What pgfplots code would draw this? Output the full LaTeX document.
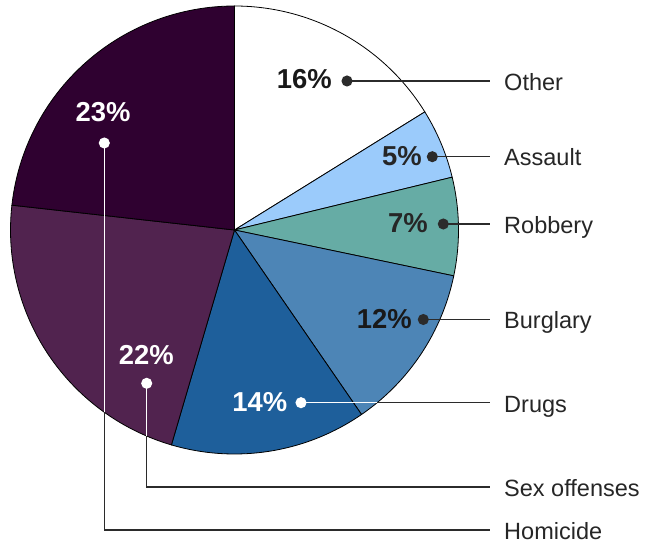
\documentclass[border=0pt]{standalone}
\usepackage{pgfplots}
\usepackage{pgfplotstable}
\pgfplotsset{compat=1.18}
\usepackage{fontspec}
\setmainfont{Liberation Sans}
\definecolor{cOther}{HTML}{FFFFFF}
\definecolor{cAssault}{HTML}{9BCBFB}
\definecolor{cRobbery}{HTML}{66ACA5}
\definecolor{cBurglary}{HTML}{4D85B6}
\definecolor{cDrugs}{HTML}{1E5F9B}
\definecolor{cSex}{HTML}{51234F}
\definecolor{cHomicide}{HTML}{2F0130}
\definecolor{lead}{HTML}{2B2B2B}

\pgfplotstableread{
category value
Other 16
Assault 5
Robbery 7
Burglary 12
Drugs 14
Sexoffenses 22
Homicide 23
}\crimedata

% cumulative angles (clockwise from 12 o'clock), total of the listed values
\def\cum{0}%
\foreach \i in {0,...,6}{%
  \pgfplotstablegetelem{\i}{value}\of\crimedata
  \pgfmathsetmacro\s{90-\cum/99*360}%
  \pgfmathsetmacro\newcum{\cum+\pgfplotsretval}%
  \pgfmathsetmacro\e{90-\newcum/99*360}%
  \expandafter\xdef\csname aS\i\endcsname{\s}%
  \expandafter\xdef\csname aE\i\endcsname{\e}%
  \xdef\cum{\newcum}%
}%
\edef\aSa{\csname aS0\endcsname}\edef\aEa{\csname aE0\endcsname}%
\edef\aSb{\csname aS1\endcsname}\edef\aEb{\csname aE1\endcsname}%
\edef\aSc{\csname aS2\endcsname}\edef\aEc{\csname aE2\endcsname}%
\edef\aSd{\csname aS3\endcsname}\edef\aEd{\csname aE3\endcsname}%
\edef\aSe{\csname aS4\endcsname}\edef\aEe{\csname aE4\endcsname}%
\edef\aSf{\csname aS5\endcsname}\edef\aEf{\csname aE5\endcsname}%
\edef\aSg{\csname aS6\endcsname}\edef\aEg{\csname aE6\endcsname}%

\begin{document}
\begin{tikzpicture}
\begin{axis}[width=645bp,height=544bp,scale only axis,
  xmin=0,xmax=645,ymin=0,ymax=544,hide axis,clip=false,
  wedge/.style={draw=black,line width=0.8bp,samples=80,variable=\t}]
\path (axis cs:0,0) rectangle (axis cs:645,544);
\def\cx{234.5}\def\cy{314}\def\R{224}
\addplot[wedge,fill=cOther,domain=\aEa:\aSa] ({\cx+\R*cos(\t)},{\cy+\R*sin(\t)}) -- (axis cs:234.5,314) -- cycle;
\addplot[wedge,fill=cAssault,domain=\aEb:\aSb] ({\cx+\R*cos(\t)},{\cy+\R*sin(\t)}) -- (axis cs:234.5,314) -- cycle;
\addplot[wedge,fill=cRobbery,domain=\aEc:\aSc] ({\cx+\R*cos(\t)},{\cy+\R*sin(\t)}) -- (axis cs:234.5,314) -- cycle;
\addplot[wedge,fill=cBurglary,domain=\aEd:\aSd] ({\cx+\R*cos(\t)},{\cy+\R*sin(\t)}) -- (axis cs:234.5,314) -- cycle;
\addplot[wedge,fill=cDrugs,domain=\aEe:\aSe] ({\cx+\R*cos(\t)},{\cy+\R*sin(\t)}) -- (axis cs:234.5,314) -- cycle;
\addplot[wedge,fill=cSex,domain=\aEf:\aSf] ({\cx+\R*cos(\t)},{\cy+\R*sin(\t)}) -- (axis cs:234.5,314) -- cycle;
\addplot[wedge,fill=cHomicide,domain=\aEg:\aSg] ({\cx+\R*cos(\t)},{\cy+\R*sin(\t)}) -- (axis cs:234.5,314) -- cycle;

% leader lines
\pgfplotsset{ld/.style={line width=1.4bp,mark=*,mark size=4.8bp,mark indices={1},mark options={solid}}}
\addplot[ld,lead] coordinates {(347,463) (490,463)};
\addplot[ld,lead] coordinates {(432.3,387.3) (490,387.3)};
\addplot[ld,lead] coordinates {(443.3,320) (490,320)};
\addplot[ld,lead] coordinates {(423.3,224.5) (490,224.5)};
\addplot[line width=1.4bp,lead] coordinates {(377.2,141.3) (490,141.3)};
\addplot[ld,white] coordinates {(301,141.3) (377.2,141.3)};
\addplot[line width=1.4bp,lead] coordinates {(146.7,107.9) (146.7,57) (490,57)};
\addplot[ld,white] coordinates {(146.7,160.7) (146.7,107.9)};
\addplot[line width=1.4bp,lead] coordinates {(104.3,131.7) (104.3,14) (490,14)};
\addplot[ld,white] coordinates {(104.3,401) (104.3,131.7)};

% percentages
\tikzset{pct/.style={inner sep=0pt,font=\bfseries\fontsize{27.5}{27.5}\selectfont}}
\node[pct,anchor=east,text=black!90] at (axis cs:332,464.5) {16\%};
\node[pct,anchor=east,text=black!85] at (axis cs:422,388) {5\%};
\node[pct,anchor=east,text=black!85] at (axis cs:428,320.5) {7\%};
\node[pct,anchor=east,text=black!90] at (axis cs:412,225) {12\%};
\node[pct,anchor=east,text=white] at (axis cs:287.5,142) {14\%};
\node[pct,anchor=center,text=white] at (axis cs:146.3,189) {22\%};
\node[pct,anchor=center,text=white] at (axis cs:103,432) {23\%};

% category labels
\tikzset{cat/.style={inner sep=0pt,anchor=base west,text=black!85,font=\fontsize{23.6}{23.6}\selectfont}}
\node[cat] at (axis cs:504,453.5) {Other};
\node[cat] at (axis cs:504,378) {Assault};
\node[cat] at (axis cs:504,310) {Robbery};
\node[cat] at (axis cs:504,215) {Burglary};
\node[cat] at (axis cs:504,131.5) {Drugs};
\node[cat] at (axis cs:504,47) {Sex offenses};
\node[cat] at (axis cs:504,4.5) {Homicide};
\end{axis}
\end{tikzpicture}
\end{document}
